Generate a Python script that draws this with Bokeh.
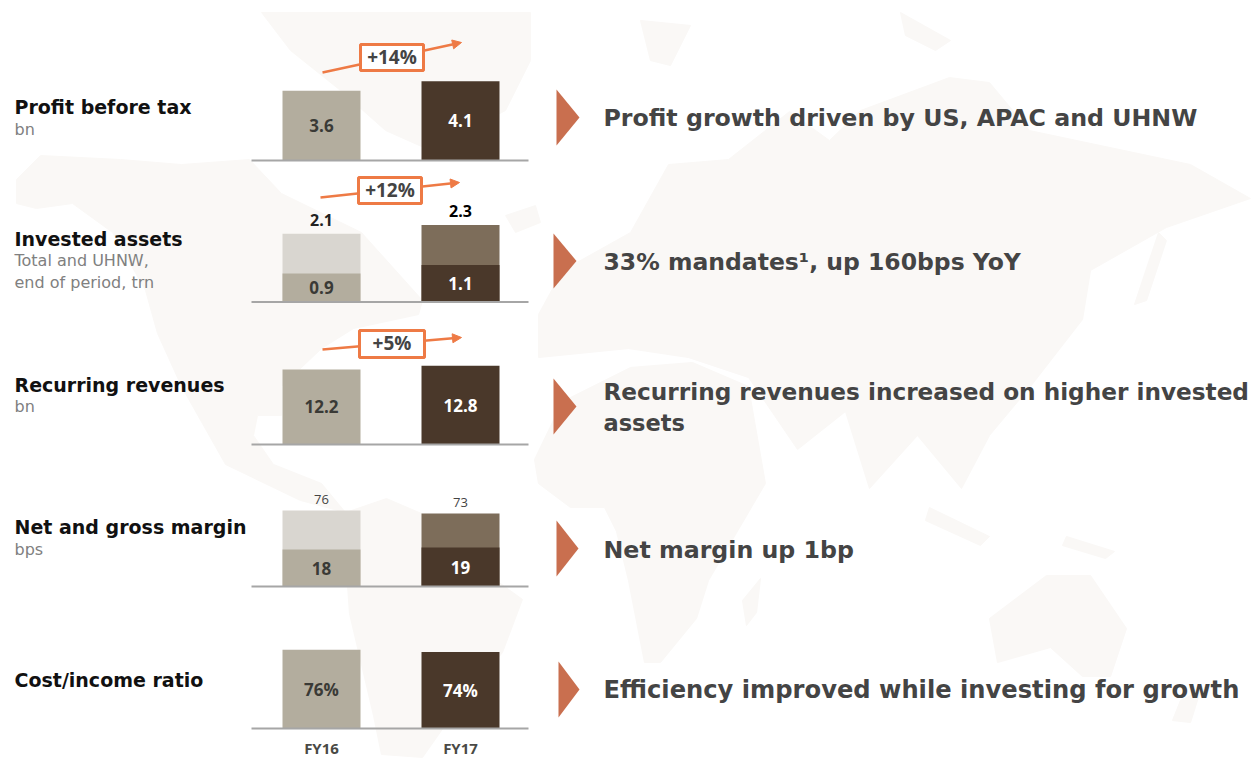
from bokeh.plotting import figure
from bokeh.models import Range1d, Arrow, NormalHead, ColumnDataSource
from bokeh.core.properties import value
from bokeh.embed import file_html
from bokeh.resources import INLINE

# ---- data ----
years = ["FY16", "FY17"]
profit = [3.6, 4.1]
profit_labels = ["3.6", "4.1"]
assets_total = [2.07, 2.33]
assets_total_labels = ["2.1", "2.3"]
assets_uhnw = [0.86, 1.12]
assets_uhnw_labels = ["0.9", "1.1"]
recurring = [12.2, 12.8]
recurring_labels = ["12.2", "12.8"]
gross_margin = [76, 73]
gross_margin_labels = ["76", "73"]
net_margin = [18, 19]
net_margin_labels = ["18", "19"]
cost_income = [76, 74]
cost_income_labels = ["76%", "74%"]
growth_labels = ["+14%", "+12%", "+5%"]

titles = ["Profit before tax", "Invested assets", "Recurring revenues", "Net and gross margin", "Cost/income ratio"]
subtitles = ["bn", "Total and UHNW,", "end of period, trn", "bn", "bps"]
comments = ["Profit growth driven by US, APAC and UHNW", "33% mandates¹, up 160bps YoY",
            "Recurring revenues increased on higher invested", "assets",
            "Net margin up 1bp", "Efficiency improved while investing for growth"]

# ---- layout (page pixels of the picture) ----
X0, X1, Y0, Y1 = 0, 1258, 0, 758
FIG_W, FIG_H = X1 - X0, Y1 - Y0
BAR_C0, BAR_STEP, BAR_W = 321, 139, 78
title_y = [106, 238, 384, 526, 679]
subtitle_y = [129, 260, 282, 406, 549]
comment_y = [117, 261, 391, 422, 549, 689]
comment_px = ["23.7px", "23.5px", "23.2px", "22.5px", "23.7px", "24.2px"]
chev = [(556, 579, 89, 145), (553, 576, 233, 288), (553, 576, 378, 434), (556, 578, 520, 576), (558, 579, 661, 717)]
growth = [((322, 72), (461, 42), (360, 423, 44, 70)),
          ((320, 197), (459, 182), (358, 421, 177, 203)),
          ((322, 349), (461, 337), (359, 424, 330, 357))]

# decorative world map silhouette, in picture pixels
map_shapes = [
    [(261, 12), (530, 12), (530, 60), (505, 110), (430, 150), (385, 130), (340, 90), (290, 50)],
    [(16, 179), (40, 155), (120, 159), (181, 164), (249, 159), (281, 193), (361, 232), (422, 300), (418, 314),
     (353, 328), (321, 348), (281, 386), (281, 415), (257, 415), (253, 435), (273, 464), (321, 483), (345, 512),
     (300, 500), (225, 464), (181, 386), (157, 333), (145, 290), (112, 232), (72, 203), (36, 208), (16, 203)],
    [(345, 512), (386, 498), (442, 522), (482, 570), (522, 599), (502, 652), (462, 700), (422, 757), (381, 754),
     (373, 715), (349, 613), (345, 556)],
    [(534, 459), (562, 401), (630, 367), (692, 362), (748, 386), (765, 483), (708, 580), (696, 618), (660, 662),
     (644, 662), (628, 580), (616, 531), (604, 507), (570, 507), (538, 483)],
    [(829, 140), (860, 110), (949, 77), (989, 82), (1029, 130), (1190, 164), (1250, 198), (1166, 227), (1090, 270),
     (1082, 319), (1030, 386), (989, 435), (961, 488), (917, 435), (869, 488), (845, 411), (797, 449), (748, 377),
     (688, 357), (628, 348), (538, 357), (538, 314), (562, 270), (630, 232), (668, 164), (728, 159), (789, 111)],
    [(989, 618), (1046, 575), (1090, 575), (1126, 628), (1110, 676), (1082, 676), (1050, 647), (997, 662)],
    [(929, 507), (989, 536), (980, 545), (925, 520)],
    [(1066, 536), (1114, 551), (1105, 558), (1062, 545)],
    [(760, 578), (756, 612), (746, 625), (742, 600)],
    [(1134, 304), (1158, 232), (1166, 240), (1146, 300)],
    [(640, 20), (690, 25), (670, 65), (650, 60)],
    [(900, 12), (950, 40), (935, 50), (905, 35)],
    [(505, 215), (535, 205), (540, 222), (515, 232)],
    [(1180, 700), (1200, 690), (1190, 722), (1172, 720)],
]

p = figure(width=FIG_W, height=FIG_H, x_range=(X0, X1), y_range=(Y1, Y0), output_backend="svg",
           toolbar_location=None, min_border=0, outline_line_color=None, background_fill_color="white")
p.axis.visible = False
p.grid.visible = False

# x scale of the bars: FY16 = 0, FY17 = 1
p.extra_x_ranges["bars"] = Range1d((X0 - BAR_C0) / BAR_STEP, (X1 - BAR_C0) / BAR_STEP)


def panel(name, baseline, px_per_unit):
    p.extra_y_ranges[name] = Range1d((baseline - Y1) / px_per_unit, (baseline - Y0) / px_per_unit)
    return name


panel("profit", 160, 19.35)
panel("assets", 301.5, 33)
panel("recurring", 444, 6.15)
panel("gross", 586, 1.0)
panel("net", 586, 2.05)
panel("cost", 728, 1.035)

MAP = "#faf8f6"
p.patches([[c[0] for c in s] for s in map_shapes], [[c[1] for c in s] for s in map_shapes],
          fill_color=MAP, line_color=MAP)

C16, C17, C16L, C17L = "#b3ad9e", "#4a382a", "#d9d6d0", "#7d6d5a"
NUM_FONT = value("Open Sans")
pos = [0, 1]


def bars(vals, yname, colors):
    src = ColumnDataSource(dict(x=pos, top=vals, c=colors))
    p.vbar(x="x", top="top", bottom=0, width=BAR_W / BAR_STEP, fill_color="c", line_color=None, source=src,
           x_range_name="bars", y_range_name=yname)


def labels(vals, texts, yname, colors, size, style="bold", mid=True, off=0):
    src = ColumnDataSource(dict(x=pos, y=[v / 2 if mid else v for v in vals], t=texts, c=colors))
    p.text(x="x", y="y", text="t", text_color="c", source=src, text_align="center", text_baseline="middle",
           text_font=NUM_FONT, text_font_size=size, text_font_style=style, y_offset=off,
           x_range_name="bars", y_range_name=yname)


INK16, INK17 = "#3a3a36", "#ffffff"
bars(profit, "profit", [C16, C17])
bars(assets_total, "assets", [C16L, C17L])
bars(assets_uhnw, "assets", [C16, C17])
bars(recurring, "recurring", [C16, C17])
bars(gross_margin, "gross", [C16L, C17L])
bars(net_margin, "net", [C16, C17])
bars(cost_income, "cost", [C16, C17])

labels(profit, profit_labels, "profit", [INK16, INK17], "17px")
labels(assets_uhnw, assets_uhnw_labels, "assets", [INK16, INK17], "17px")
labels(recurring, recurring_labels, "recurring", [INK16, INK17], "17px")
labels(net_margin, net_margin_labels, "net", [INK16, INK17], "17px")
labels(cost_income, cost_income_labels, "cost", [INK16, INK17], "17px")
labels(assets_total, assets_total_labels, "assets", ["#222222", "#000000"], "16px", mid=False, off=-14)
labels(gross_margin, gross_margin_labels, "gross", ["#444444", "#444444"], "13px", style="normal", mid=False, off=-11)

# baselines
for name in ["profit", "assets", "recurring", "net", "cost"]:
    p.segment(x0=[251], x1=[528], y0=[0], y1=[0], line_color="#a6a6a6", line_width=2, y_range_name=name)

# year labels below the last panel
p.text(x=pos, y=[747.5, 747.5], text=years, text_align="center", text_baseline="middle", text_color="#4a4a46",
       text_font=NUM_FONT, text_font_size="15px", text_font_style="bold", x_range_name="bars")

# growth arrows
ORANGE = "#ee7a45"
for (a, b, box), lab in zip(growth, growth_labels):
    p.add_layout(Arrow(end=NormalHead(size=9, fill_color=ORANGE, line_color=ORANGE),
                       x_start=a[0], y_start=a[1], x_end=b[0], y_end=b[1], line_color=ORANGE, line_width=2.5))
    p.quad(left=[box[0]], right=[box[1]], top=[box[2]], bottom=[box[3]], fill_color="white",
           line_color=ORANGE, line_width=3, level="overlay")
    p.text(x=[(box[0] + box[1]) / 2], y=[(box[2] + box[3]) / 2], text=[lab], text_align="center",
           text_baseline="middle", text_color="#444444", text_font=NUM_FONT, text_font_size="19px",
           text_font_style="bold", y_offset=-1, level="overlay")

# chevrons
p.patches([[c[0], c[1], c[0]] for c in chev], [[c[2], (c[2] + c[3]) / 2, c[3]] for c in chev],
          fill_color="#c96f4f", line_color=None)

# texts
p.text(x=[14] * len(titles), y=title_y, text=titles, text_baseline="middle", text_color="#111111",
       text_font=value("DejaVu Sans"), text_font_size="19px", text_font_style="bold")
p.text(x=[14] * len(subtitles), y=subtitle_y, text=subtitles, text_baseline="middle", text_color="#808080",
       text_font=value("DejaVu Sans"), text_font_size="16px")
comment_src = ColumnDataSource(dict(x=[603] * len(comments), y=comment_y, t=comments, s=comment_px))
p.text(x="x", y="y", text="t", source=comment_src, text_baseline="middle", text_color="#444444",
       text_font=value("DejaVu Sans"), text_font_size="s", text_font_style="bold")

open("out.html", "w").write(file_html(p, INLINE))
